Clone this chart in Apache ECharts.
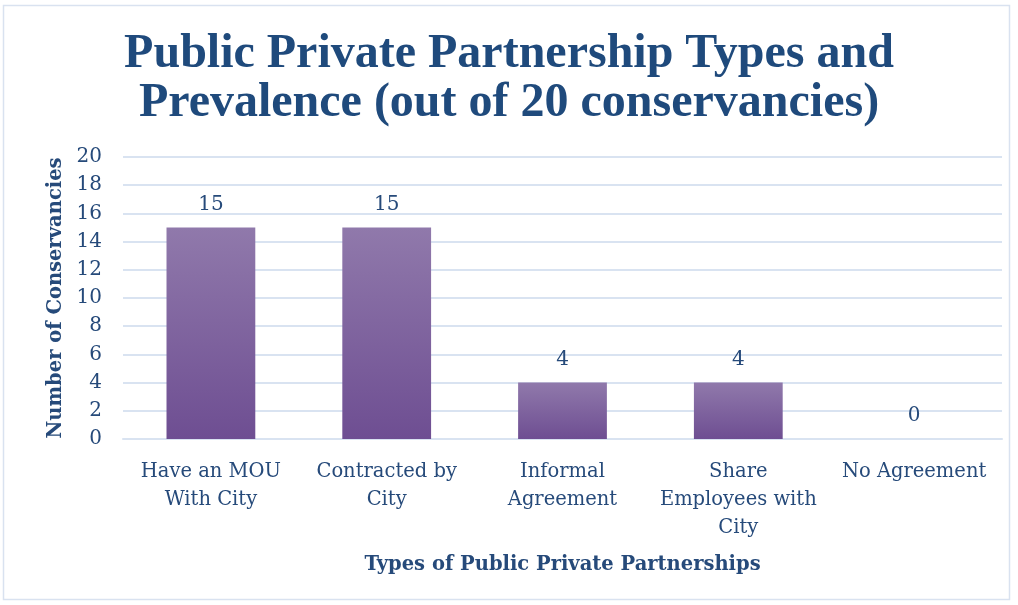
<!DOCTYPE html>
<html><head><meta charset="utf-8">
<script src="https://cdn.jsdelivr.net/npm/echarts@6/dist/echarts.min.js"></script>
<style>html,body{margin:0;padding:0;background:#fff}#c{width:1018px;height:605px}</style>
</head><body><div id="c"></div>
<script>
const categories = ['Have an MOU\nWith City', 'Contracted by\nCity', 'Informal\nAgreement', 'Share\nEmployees with\nCity', 'No Agreement'];
const values = [15, 15, 4, 4, 0];
const titleText = 'Public Private Partnership Types and\nPrevalence (out of 20 conservancies)';
const xName = 'Types of Public Private Partnerships';
const yName = 'Number of Conservancies';

const txt = '#264A7A';
const font = 'DejaVu Serif';
const chart = echarts.init(document.getElementById('c'));
chart.setOption({
  animation: false,
  graphic: [{type:'rect', shape:{x:3.5,y:5.5,width:1006,height:594}, style:{fill:'none', stroke:'#D9E2F0', lineWidth:1.5}, silent:true}],
  title: {text: titleText, left: 'center', top: 25,
    textStyle: {fontFamily: 'Liberation Serif', fontWeight: 'bold', fontSize: 48, lineHeight: 49, color: '#1F4A7C'}},
  grid: {left: 123, right: 16, top: 157, bottom: 166, containLabel: false},
  xAxis: {type: 'category', data: categories,
    name: xName, nameLocation: 'middle', nameGap: 116,
    nameTextStyle: {fontFamily: font, fontWeight: 'bold', fontSize: 19.5, color: txt},
    axisLine: {show: true, lineStyle: {color: '#D9E3F1', width: 2}},
    axisTick: {show: false},
    axisLabel: {fontFamily: font, fontSize: 19.5, color: txt, lineHeight: 28, margin: 19, interval: 0}},
  yAxis: {type: 'value', min: 0, max: 20, interval: 2,
    name: yName, nameLocation: 'middle', nameGap: 57,
    nameTextStyle: {fontFamily: font, fontWeight: 'bold', fontSize: 19.5, color: txt},
    axisLine: {show: false}, axisTick: {show: false},
    axisLabel: {fontFamily: font, fontSize: 20, color: txt, margin: 21},
    splitLine: {lineStyle: {color: '#D9E3F1', width: 2}}},
  series: [{type: 'bar', data: values, barWidth: '50.5%',
    itemStyle: {color: new echarts.graphic.LinearGradient(0,0,0,1,[{offset:0,color:'#9079AB'},{offset:1,color:'#6E4E92'}])},
    label: {show: true, position: 'top', distance: 13, fontFamily: font, fontSize: 20, color: txt}}]
});
</script></body></html>
